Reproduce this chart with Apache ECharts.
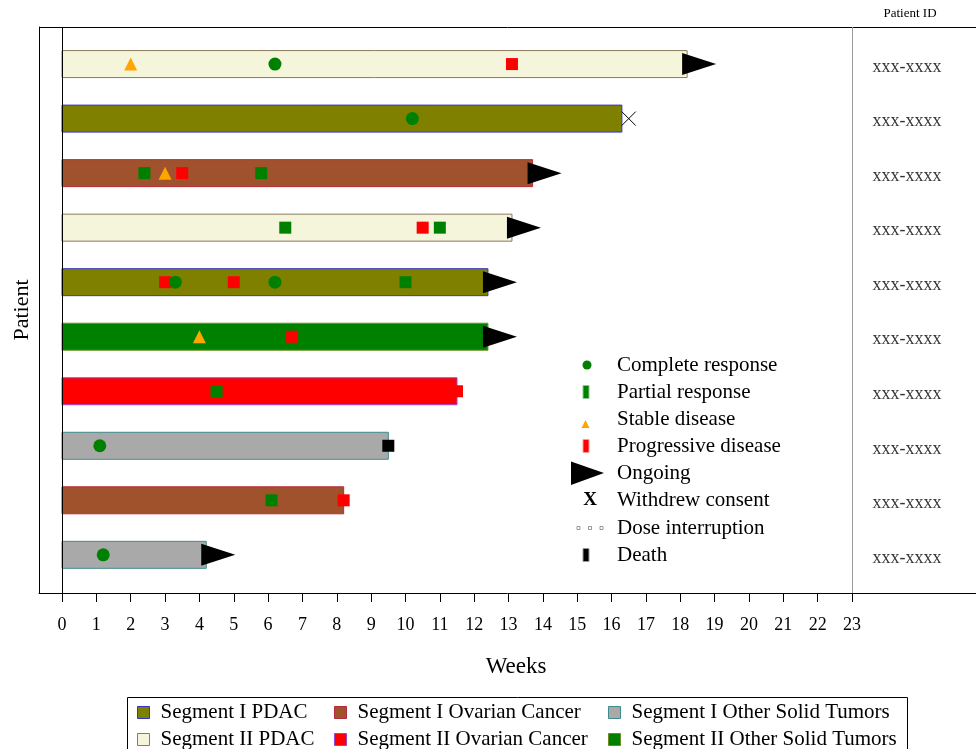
<!DOCTYPE html>
<html>
<head>
<meta charset="utf-8">
<script src="https://cdn.jsdelivr.net/npm/echarts@6/dist/echarts.min.js"></script>
<style>html,body{margin:0;padding:0;background:#fff}#chart{width:976px;height:749px}</style>
</head>
<body>
<div id="chart"></div>
<script>
// ---------------- data ----------------
const weekTicks = [0,1,2,3,4,5,6,7,8,9,10,11,12,13,14,15,16,17,18,19,20,21,22,23];
const patientRows = [1,2,3,4,5,6,7,8,9,10];
const patientIds = ['xxx-xxxx','xxx-xxxx','xxx-xxxx','xxx-xxxx','xxx-xxxx','xxx-xxxx','xxx-xxxx','xxx-xxxx','xxx-xxxx','xxx-xxxx'];
const segmentNames = ['Segment I PDAC','Segment I Ovarian Cancer','Segment I Other Solid Tumors','Segment II PDAC','Segment II Ovarian Cancer','Segment II Other Solid Tumors'];
const patientSegment = ['Segment II PDAC','Segment I PDAC','Segment I Ovarian Cancer','Segment II PDAC','Segment I PDAC','Segment II Other Solid Tumors','Segment II Ovarian Cancer','Segment I Other Solid Tumors','Segment I Ovarian Cancer','Segment I Other Solid Tumors'];
const treatmentWeeks = [18.2,16.3,13.7,13.1,12.4,12.4,11.5,9.5,8.2,4.2];
const completeResponse = [[6.2,1],[10.2,2],[3.3,5],[6.2,5],[1.1,8],[1.2,10]];
const partialResponse = [[2.4,3],[5.8,3],[6.5,4],[11.0,4],[10.0,5],[4.5,7],[6.1,9]];
const stableDisease = [[2.0,1],[3.0,3],[4.0,6]];
const progressiveDisease = [[13.1,1],[3.5,3],[10.5,4],[3.0,5],[5.0,5],[6.7,6],[11.5,7],[8.2,9]];
const ongoingRows = [1,3,4,5,6,10];
const withdrewConsent = [[16.5,2]];
const death = [[9.5,8]];
const legendLabels = ['Complete response','Partial response','Stable disease','Progressive disease','Ongoing','Withdrew consent','Dose interruption','Death'];

// ---------------- styles ----------------
const FONT = '"Liberation Serif", "Times New Roman", serif';
const segStyle = {
  'Segment I PDAC': {fill:'#808000', stroke:'#3434C8'},
  'Segment I Ovarian Cancer': {fill:'#A0522D', stroke:'#B8283C'},
  'Segment I Other Solid Tumors': {fill:'#A9A9A9', stroke:'#3F8C8C'},
  'Segment II PDAC': {fill:'#F5F5DC', stroke:'#8B7B5B'},
  'Segment II Ovarian Cancer': {fill:'#FF0000', stroke:'#9A44D8'},
  'Segment II Other Solid Tumors': {fill:'#008000', stroke:'#6B8E23'}
};
const BAR_H = 0.495;

function renderBar(params, api) {
  const y = api.value(1);
  const p0 = api.coord([0, y]);
  const p1 = api.coord([api.value(0), y]);
  const h = api.size([0, BAR_H])[1];
  const st = segStyle[params.seriesName];
  return {
    type: 'rect',
    shape: {x: p0[0], y: p0[1] - h / 2, width: p1[0] - p0[0], height: h},
    style: {fill: st.fill, stroke: st.stroke, lineWidth: 1}
  };
}

const barSeries = segmentNames.map((name, si) => {
  const data = [];
  patientRows.forEach((r, i) => { if (patientSegment[i] === name) data.push([treatmentWeeks[i], r]); });
  const s = {
    name: name,
    type: 'custom',
    renderItem: renderBar,
    encode: {x: 0, y: 1},
    itemStyle: {color: segStyle[name].fill, borderColor: segStyle[name].stroke, borderWidth: 1},
    data: data,
    z: 2
  };
  if (si === 0) {
    s.markLine = {
      silent: true, symbol: 'none', label: {show: false}, animation: false,
      data: [
        {xAxis: 0, lineStyle: {color: '#000', width: 1, type: 'solid'}},
        {xAxis: 23, lineStyle: {color: '#999', width: 1, type: 'solid'}}
      ]
    };
  }
  return s;
});

const ongoingData = ongoingRows.map(r => [treatmentWeeks[r - 1], r]);

const markerSeries = [
  {name: 'Partial response', type: 'scatter', symbol: 'rect', symbolSize: 12, itemStyle: {color: '#008000'}, data: partialResponse},
  {name: 'Stable disease', type: 'scatter', symbol: 'triangle', symbolSize: [13, 13], itemStyle: {color: '#FFA500'}, data: stableDisease},
  {name: 'Progressive disease', type: 'scatter', symbol: 'rect', symbolSize: 12, itemStyle: {color: '#FF0000'}, data: progressiveDisease},
  {name: 'Complete response', type: 'scatter', symbol: 'circle', symbolSize: 13, itemStyle: {color: '#008000'}, data: completeResponse},
  {name: 'Death', type: 'scatter', symbol: 'rect', symbolSize: 12, itemStyle: {color: '#000'}, data: death},
  {name: 'Withdrew consent', type: 'scatter', symbol: 'path://M0,0L14,14M14,0L0,14', symbolSize: 14,
   itemStyle: {color: 'none', borderColor: '#000', borderWidth: 1}, data: withdrewConsent},
  {name: 'Ongoing', type: 'scatter', symbol: 'path://M0,0L34,11L0,22Z', symbolSize: [34, 22], symbolOffset: [12, 0],
   itemStyle: {color: '#000'}, data: ongoingData}
].map(s => { s.itemStyle.opacity = 1; return Object.assign(s, {z: 3, silent: true}); });

const idSeries = {
  name: 'Patient ID', type: 'scatter', symbolSize: 0, silent: true, z: 3,
  data: patientRows.map(r => [24.6, r]),
  label: {show: true, position: 'inside', offset: [0, 3], formatter: p => patientIds[p.dataIndex], fontSize: 18, fontFamily: FONT, color: '#000'}
};

// inner legend graphics
const LX = 617, LY = [365, 392, 419, 446, 473, 500, 528, 555];
const g = [];
legendLabels.forEach((t, i) => g.push({type: 'text', x: LX, y: LY[i], style: {text: t, font: '21px ' + FONT, fill: '#000', verticalAlign: 'middle'}}));
g.push({type: 'circle', shape: {cx: 587, cy: LY[0], r: 4.5}, style: {fill: '#008000'}});
g.push({type: 'rect', shape: {x: 583, y: LY[1] - 6.5, width: 6, height: 13}, style: {fill: '#008000', stroke: '#8CC88C', lineWidth: 1}});
g.push({type: 'polygon', shape: {points: [[581.5, 428], [589.5, 428], [585.5, 420]]}, style: {fill: '#FFA500'}});
g.push({type: 'rect', shape: {x: 583, y: LY[3] - 6.5, width: 6, height: 13}, style: {fill: '#FF0000', stroke: '#FF9A9A', lineWidth: 1}});
g.push({type: 'polygon', shape: {points: [[571, 461.5], [604, 473], [571, 485]]}, style: {fill: '#000'}});
g.push({type: 'text', x: 590, y: LY[5], style: {text: 'X', font: 'bold 19px ' + FONT, fill: '#000', align: 'center', verticalAlign: 'middle'}});
[578.5, 590, 601.5].forEach(cx => g.push({type: 'rect', shape: {x: cx - 1.5, y: LY[6] - 1.5, width: 3, height: 3}, style: {fill: '#fff', stroke: '#999', lineWidth: 1}}));
g.push({type: 'rect', shape: {x: 583, y: LY[7] - 6.5, width: 6, height: 13}, style: {fill: '#000', stroke: '#999', lineWidth: 1}});
// header, top frame line and bottom legend frame
g.push({type: 'text', x: 910, y: 14, style: {text: 'Patient ID', font: '13px ' + FONT, fill: '#000', align: 'center', verticalAlign: 'middle'}});
g.push({type: 'line', shape: {x1: 39, y1: 27.5, x2: 976, y2: 27.5}, style: {stroke: '#000', lineWidth: 1}});
g.push({type: 'rect', shape: {x: 127.5, y: 697.5, width: 780, height: 70}, style: {fill: 'none', stroke: '#000', lineWidth: 1}, z: -1});

function mkLegend(names, left) {
  return {
    data: names, left: left, top: 702, width: 300, height: 120, orient: 'vertical', icon: 'rect',
    itemWidth: 12, itemHeight: 12, itemGap: 6, selectedMode: false, padding: 0,
    itemStyle: {borderWidth: 1},
    textStyle: {fontSize: 21, fontFamily: FONT, color: '#000', lineHeight: 19, padding: [0, 0, 0, 6]}
  };
}

const chart = echarts.init(document.getElementById('chart'), null, {renderer: 'canvas'});
chart.setOption({
  animation: false,
  backgroundColor: '#fff',
  grid: {left: 39, right: 0, top: 27, bottom: 156, show: false},
  xAxis: {
    type: 'value', min: -0.67, max: 26.61,
    name: 'Weeks', nameLocation: 'middle', nameGap: 62,
    nameTextStyle: {fontSize: 23, fontFamily: FONT, color: '#000', padding: [0, 0, 0, 17]},
    axisLine: {show: true, onZero: false, lineStyle: {color: '#000', width: 1}},
    axisTick: {show: true, length: 9, customValues: weekTicks, lineStyle: {color: '#000'}},
    axisLabel: {customValues: weekTicks, fontSize: 18, fontFamily: FONT, color: '#000', margin: 23},
    splitLine: {show: false}
  },
  yAxis: {
    type: 'value', inverse: true, min: 0.32, max: 10.7,
    name: 'Patient', nameLocation: 'middle', nameGap: 6, nameRotate: 90,
    nameTextStyle: {fontSize: 22, fontFamily: FONT, color: '#000'},
    axisLine: {show: true, onZero: false, lineStyle: {color: '#000', width: 1}},
    axisTick: {show: false}, axisLabel: {show: false}, splitLine: {show: false}
  },
  legend: [
    mkLegend([segmentNames[0], segmentNames[3]], 137),
    mkLegend([segmentNames[1], segmentNames[4]], 334),
    mkLegend([segmentNames[2], segmentNames[5]], 608)
  ],
  graphic: g,
  series: barSeries.concat(markerSeries, [idSeries])
});
</script>
</body>
</html>
